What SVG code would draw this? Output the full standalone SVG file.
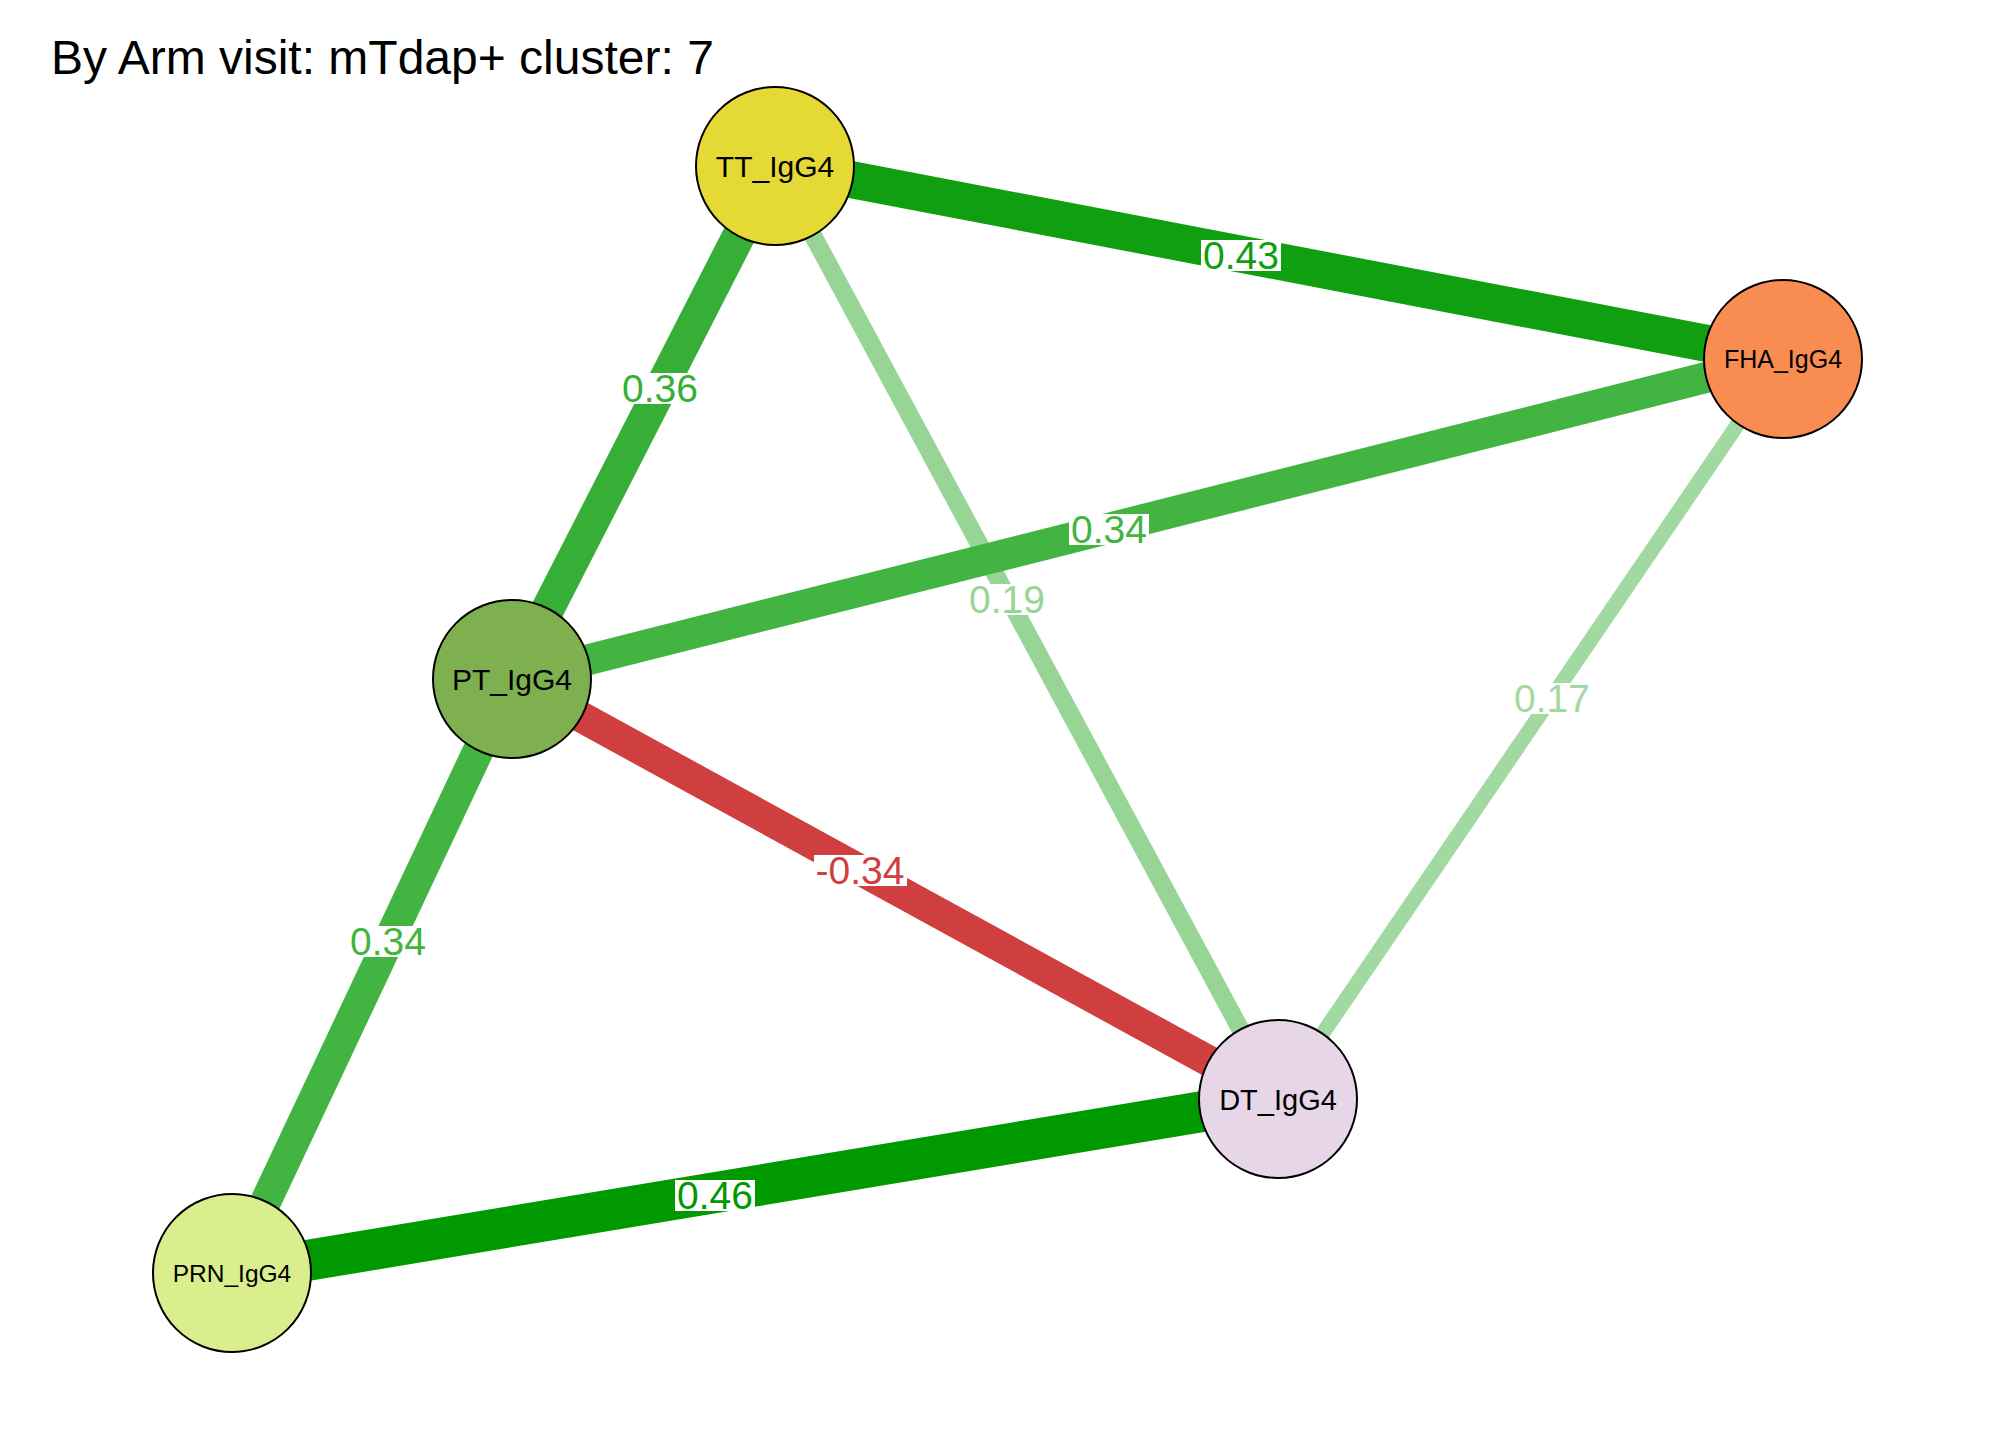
<svg xmlns="http://www.w3.org/2000/svg" width="2016" height="1440" viewBox="0 0 2016 1440">
<style>
.e{fill:none;stroke-linecap:butt}
.n{stroke:#000;stroke-width:2}
.nl{font-family:"Liberation Sans",Arial,sans-serif;fill:#000;text-anchor:middle}
.el{font-family:"Liberation Sans",Arial,sans-serif;font-size:39px;text-anchor:middle}
.bg{fill:#fff}
.title{font-family:"Liberation Sans",Arial,sans-serif;font-size:48px;fill:#000}
</style>
<rect width="2016" height="1440" fill="#fff"/>
<text class="title" x="51" y="74">By Arm visit: mTdap+ cluster: 7</text>
<g id="edges">
<line class="e" x1="775" y1="165" x2="1783" y2="358" stroke="#109f10" stroke-width="37"/>
<line class="e" x1="775" y1="165" x2="512" y2="679" stroke="#37af37" stroke-width="33"/>
<line class="e" x1="775" y1="165" x2="1278" y2="1099" stroke="#96d596" stroke-width="18"/>
<line class="e" x1="512" y1="679" x2="1783" y2="358" stroke="#42b442" stroke-width="31"/>
<line class="e" x1="1783" y1="358" x2="1278" y2="1099" stroke="#a1d9a1" stroke-width="15"/>
<line class="e" x1="512" y1="679" x2="1278" y2="1099" stroke="#cf3f3f" stroke-width="31"/>
<line class="e" x1="512" y1="679" x2="232" y2="1273" stroke="#42b442" stroke-width="31"/>
<line class="e" x1="232" y1="1273" x2="1278" y2="1099" stroke="#009900" stroke-width="41"/>
<g id="edge-labels">
<rect class="bg" x="1201" y="240" width="80" height="31"/>
<text class="el" x="1241" y="269" fill="#109f10">0.43</text>
<rect class="bg" x="620" y="373" width="80" height="31"/>
<text class="el" x="660" y="402" fill="#37af37">0.36</text>
<rect class="bg" x="1069" y="514" width="80" height="31"/>
<text class="el" x="1109" y="543" fill="#42b442">0.34</text>
<rect class="bg" x="967" y="584" width="80" height="31"/>
<text class="el" x="1007" y="613" fill="#96d596">0.19</text>
<rect class="bg" x="1512" y="683" width="80" height="31"/>
<text class="el" x="1552" y="712" fill="#a1d9a1">0.17</text>
<rect class="bg" x="814" y="855" width="93" height="31"/>
<text class="el" x="860" y="884" fill="#cf3f3f">-0.34</text>
<rect class="bg" x="348" y="926" width="80" height="31"/>
<text class="el" x="388" y="955" fill="#42b442">0.34</text>
<rect class="bg" x="675" y="1180" width="80" height="31"/>
<text class="el" x="715" y="1209" fill="#009900">0.46</text>
</g>
</g>
<g id="TT_IgG4"><circle class="n" cx="775" cy="166" r="79" fill="#e5d936"/><text class="nl" x="775" y="177" font-size="30">TT_IgG4</text></g>
<g id="FHA_IgG4"><circle class="n" cx="1783" cy="359" r="79" fill="#f98c50"/><text class="nl" x="1783" y="368" font-size="25">FHA_IgG4</text></g>
<g id="PT_IgG4"><circle class="n" cx="512" cy="679" r="79" fill="#7eb050"/><text class="nl" x="512" y="690" font-size="30">PT_IgG4</text></g>
<g id="DT_IgG4"><circle class="n" cx="1278" cy="1099" r="79" fill="#e7d6e8"/><text class="nl" x="1278" y="1110" font-size="29">DT_IgG4</text></g>
<g id="PRN_IgG4"><circle class="n" cx="232" cy="1273" r="79" fill="#dbee8d"/><text class="nl" x="232" y="1282" font-size="24.5">PRN_IgG4</text></g>
</svg>
